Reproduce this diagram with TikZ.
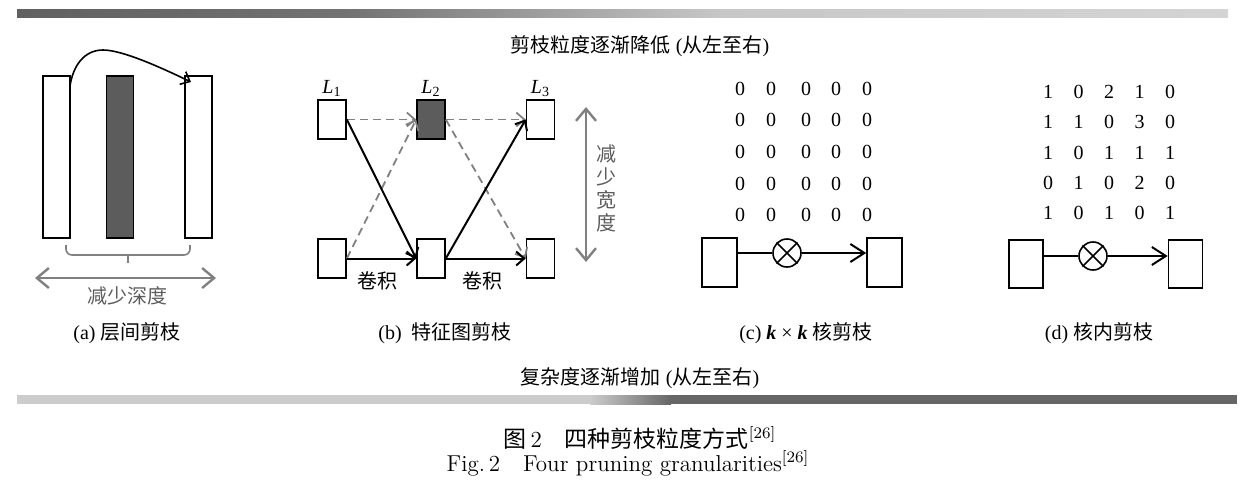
\documentclass[tikz,border=0pt]{standalone}
\usepackage{fontspec}
\newfontfamily\cjk{Noto Sans CJK SC}
\newfontfamily\tms{Liberation Serif}
\usetikzlibrary{arrows.meta,positioning}
\definecolor{prgray}{RGB}{128,128,128}
\definecolor{prdark}{RGB}{92,92,92}
\newcommand{\zh}[1]{{\cjk #1}}

\begin{document}
\begin{tikzpicture}[x=0.5pt, y=-0.5pt,
  lbl/.style={font=\tms\fontsize{10}{12}\selectfont, inner sep=1pt},
  num/.style={font=\tms\fontsize{10}{12}\selectfont, inner sep=0pt},
  bar/.style={draw, line width=0.8pt, fill=white, inner sep=0pt, minimum width=13.5pt, minimum height=81pt},
  fmap/.style={draw, line width=0.8pt, fill=white, inner sep=0pt, minimum width=14pt, minimum height=19.5pt},
  kbox/.style={draw, line width=0.8pt, fill=white, inner sep=0pt, minimum width=17.5pt, minimum height=24.5pt},
  mult/.style={draw, circle, line width=0.8pt, inner sep=0pt, minimum size=14pt},
  solidarr/.style={-{Straight Barb[length=4pt,width=7pt]}, line width=1pt},
  dasharr/.style={-{Straight Barb[length=4pt,width=7pt]}, prgray, line width=0.9pt, dash pattern=on 4pt off 2.5pt},
  grayarr/.style={{Straight Barb[length=6pt,width=10pt]}-{Straight Barb[length=6pt,width=10pt]}, prgray, line width=1.2pt},
  kernarr/.style={-{Straight Barb[length=7pt,width=9pt]}, line width=1pt}]
\useasboundingbox (0,0) rectangle (1254,493);

% Top bar and label
\shade[left color=black!62, right color=black!55] (17,9) rectangle (351,17);
\shade[left color=black!55, right color=black!22] (350,9) rectangle (721,17);
\shade[left color=black!22, right color=black!17] (720,9) rectangle (1228,17);
\node[lbl] (toplbl) at (640,46) {\zh{剪枝粒度逐渐降低} (\zh{从左至右})};

% (a) layer pruning
\node[bar] (a1) at (56.5,157) {};
\node[bar, fill=prdark] (a2) at (120,157) {};
\node[bar] (a3) at (198.5,157) {};
\coordinate (a-start) at (70,86);
\coordinate (a-top) at (103,50);
\coordinate (a-end) at (191,82);
\draw[-{Straight Barb[length=4pt,width=7pt]}, line width=0.8pt]
  (a-start) .. controls (73,66) and (84,50) .. (a-top)
  .. controls (122,50) and (160,67) .. (a-end);
\draw[prgray, line width=0.8pt, rounded corners=3pt]
  (66,245) -- (66,255) -- (190,255) -- (190,245);
\draw[prgray, line width=0.8pt] (128,255) -- (128,263);
\draw[grayarr] (35,278) -- (216,278);
\node[lbl, prdark] (a-depth) at (127,296) {\zh{减少深度}};
\node[lbl] (a-cap) at (127,333) {(a) \zh{层间剪枝}};

% (b) feature map pruning
\node[fmap] (l1) at (332,119.5) {};
\node[fmap, fill=prdark] (l2) at (431,119.5) {};
\node[fmap] (l3) at (540.5,119.5) {};
\node[fmap] (b1) at (332,258.5) {};
\node[fmap] (b2) at (431,258.5) {};
\node[fmap] (b3) at (540.5,258.5) {};
\node[lbl, above=0pt of l1] (l1-name) {\textit{L}\textsubscript{1}};
\node[lbl, above=0pt of l2] (l2-name) {\textit{L}\textsubscript{2}};
\node[lbl, above=0pt of l3] (l3-name) {\textit{L}\textsubscript{3}};
\draw[dasharr] (l1.east) -- (l2.west);
\draw[dasharr] (l2.east) -- (l3.west);
\draw[dasharr] (b1.east) -- (l2.west);
\draw[dasharr] (l2.east) -- (b3.west);
\draw[solidarr] (l1.east) -- (b2.west);
\draw[solidarr] (b1.east) -- (b2.west);
\draw[solidarr] (b2.east) -- (l3.west);
\draw[solidarr] (b2.east) -- (b3.west);
\node[lbl] (conv1) at (377,281) {\zh{卷积}};
\node[lbl] (conv2) at (482,281) {\zh{卷积}};
\draw[grayarr] (586,107) -- (586,262);
\node[lbl, prdark, align=center, font=\cjk\fontsize{10}{11.5}\selectfont] (b-width) at (606,188) {减\\少\\宽\\度};
\node[lbl] (b-cap) at (445,333) {(b)\ \ \zh{特征图剪枝}};

% (c) k x k kernel pruning
\foreach \y [count=\r] in {89,120,152,184,215} {
  \foreach \x [count=\c] in {740,771,806,836,867} {
    \node[num] (c\r\c) at (\x,\y) {0};
  }
}
\node[kbox] (cl) at (719.5,262.5) {};
\node[kbox] (cr) at (884.5,262.5) {};
\node[mult] (ck) at (787,253) {};
\draw[line width=0.8pt] (ck.north west) -- (ck.south east) (ck.north east) -- (ck.south west);
\draw[line width=1pt] (cl.east |- ck.west) -- (ck.west);
\draw[kernarr] (ck.east) -- (cr.west |- ck.east);
\node[lbl] (c-cap) at (806,333) {(c) \textbf{\textit{k}} × \textbf{\textit{k}} \zh{核剪枝}};

% (d) intra-kernel pruning
\foreach \row [count=\r] in {{1,0,2,1,0},{1,1,0,3,0},{1,0,1,1,1},{0,1,0,2,0},{1,0,1,0,1}} {
  \foreach \v [count=\c] in \row {
    \node[num] (d\r\c) at ({1048+(\c-1)*30.5},{92+(\r-1)*30.3}) {\v};
  }
}
\node[kbox, minimum width=17pt, minimum height=24pt] (dl) at (1026,264) {};
\node[kbox, minimum width=17pt, minimum height=24pt] (dr) at (1185.5,264) {};
\node[mult] (dk) at (1093,256) {};
\draw[line width=0.8pt] (dk.north west) -- (dk.south east) (dk.north east) -- (dk.south west);
\draw[line width=1pt] (dl.east |- dk.west) -- (dk.west);
\draw[kernarr] (dk.east) -- (dr.west |- dk.east);
\node[lbl] (d-cap) at (1099,333) {(d) \zh{核内剪枝}};

% Bottom label and bar
\node[lbl] (botlbl) at (640,378) {\zh{复杂度逐渐增加} (\zh{从左至右})};
\fill[black!20] (17,395) rectangle (591,404);
\shade[left color=black!20, right color=black!60] (590,395) rectangle (671,404);
\fill[black!60] (670,395) rectangle (1237,404);

% Caption
\node[font=\fontsize{11.5}{13}\selectfont] (cap-zh) at (640,438) {\zh{图}\,2\quad\zh{四种剪枝粒度方式}$^{[26]}$};
\node[font=\fontsize{11.5}{13}\selectfont] (cap-en) at (628,463) {Fig.\,2\quad Four pruning granularities$^{[26]}$};
\end{tikzpicture}
\end{document}
